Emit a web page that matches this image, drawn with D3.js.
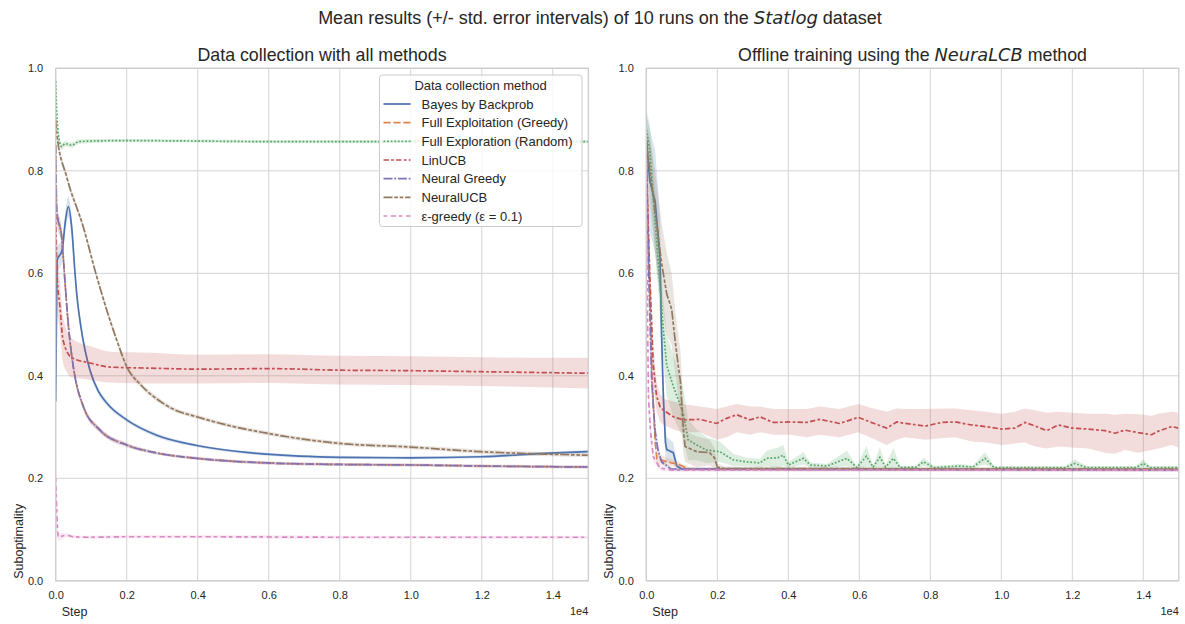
<!DOCTYPE html>
<html>
<head>
<meta charset="utf-8">
<script src="https://cdn.jsdelivr.net/npm/d3@7"></script>
<style>
body{margin:0;background:#fff}
svg{display:block;font-family:"Liberation Sans",Arial,sans-serif}
</style>
</head>
<body>
<div id="chart"></div>
<script>
'use strict'
// hue order used by both panels
const methods=["Bayes by Backprob","Full Exploitation (Greedy)","Full Exploration (Random)","LinUCB","Neural Greedy","NeuralUCB","ε-greedy (ε = 0.1)"]
const xTicks=[0,2000,4000,6000,8000,10000,12000,14000]
const yTicks=[0,0.2,0.4,0.6,0.8,1.0]

// left panel: data collection, rows are [step, mean, std. error]
const collectBayes=[[0,0.35,0.35],[37,0.625,0.03],[180,0.645,0.02],[270,0.70,0.02],[355,0.73,0.02],[450,0.69,0.02],[544,0.60,0.015],[592,0.56,0.012],[700,0.50,0.01],[826,0.45,0.008],[966,0.411,0.007],[1200,0.37,0.006],[1437,0.347,0.005],[2000,0.314,0.004],[2845,0.284,0.004],[3972,0.264,0.003],[5944,0.247,0.003],[8007,0.241,0.003],[9979,0.240,0.003],[11951,0.242,0.003],[13923,0.249,0.003],[15000,0.252,0.003]]
const collectGreedy=[[0,0.85,0.05],[30,0.72,0.02],[170,0.67,0.015],[260,0.585,0.012],[355,0.50,0.01],[450,0.44,0.01],[544,0.398,0.008],[779,0.34,0.006],[1248,0.294,0.005],[2000,0.265,0.004],[2800,0.25,0.003],[3972,0.239,0.003],[5944,0.23,0.003],[8007,0.227,0.003],[10000,0.226,0.003],[12000,0.224,0.003],[15000,0.222,0.003]]
const collectRandom=[[0,0.975,0.02],[40,0.90,0.01],[100,0.86,0.008],[170,0.847,0.006],[260,0.853,0.005],[450,0.85,0.005],[650,0.857,0.004],[1000,0.858,0.004],[2000,0.859,0.003],[4000,0.858,0.003],[6000,0.857,0.003],[9000,0.857,0.003],[12000,0.858,0.003],[15000,0.857,0.003]]
const collectLinUCB=[[0,0.74,0.06],[35,0.60,0.06],[121,0.534,0.05],[206,0.47,0.045],[459,0.435,0.038],[966,0.425,0.033],[1530,0.417,0.03],[2656,0.415,0.03],[4000,0.413,0.028],[6000,0.414,0.028],[8000,0.411,0.028],[10000,0.41,0.028],[12000,0.408,0.028],[14000,0.406,0.029],[15000,0.405,0.03]]
const collectNeuralGreedy=[[0,0.85,0.05],[30,0.72,0.02],[170,0.67,0.015],[260,0.585,0.012],[355,0.50,0.01],[450,0.44,0.01],[544,0.398,0.008],[779,0.34,0.006],[1248,0.294,0.005],[2000,0.265,0.004],[2800,0.25,0.003],[3972,0.239,0.003],[5944,0.23,0.003],[8007,0.227,0.003],[10000,0.226,0.003],[12000,0.224,0.003],[15000,0.222,0.003]]
const collectNeuralUCB=[[0,0.90,0.01],[28,0.873,0.008],[310,0.788,0.007],[779,0.69,0.006],[1150,0.595,0.006],[1718,0.47,0.006],[2000,0.418,0.005],[2400,0.382,0.005],[2845,0.355,0.005],[3310,0.335,0.004],[3972,0.32,0.004],[4817,0.304,0.004],[5944,0.288,0.004],[8007,0.268,0.004],[9979,0.261,0.004],[11951,0.252,0.004],[13923,0.247,0.004],[15000,0.245,0.004]]
const collectEps=[[0,0.2,0.1],[40,0.12,0.03],[70,0.086,0.008],[310,0.089,0.004],[500,0.086,0.003],[966,0.085,0.003],[2000,0.086,0.003],[4000,0.086,0.003],[8000,0.085,0.003],[15000,0.085,0.003]]

// right panel: offline training with NeuraLCB
const offlineBayes=[[0,0.86,0.05],[100,0.78,0.1],[250,0.74,0.1],[386,0.63,0.08],[430,0.48,0.06],[480,0.36,0.04],[540,0.27,0.03],[575,0.256,0.025],[760,0.25,0.02],[860,0.224,0.008],[1000,0.218,0.003],[15000,0.217,0.002]]
const offlineGreedy=[[0,0.85,0.04],[80,0.62,0.04],[160,0.40,0.03],[250,0.27,0.02],[300,0.238,0.01],[600,0.232,0.008],[950,0.226,0.005],[1200,0.218,0.003],[15000,0.217,0.002]]
const offlineRandom=[[0,0.88,0.04],[100,0.84,0.05],[250,0.70,0.06],[340,0.62,0.06],[480,0.49,0.06],[575,0.42,0.06],[760,0.38,0.06],[1040,0.327,0.05],[1180,0.275,0.04],[1420,0.265,0.03],[1700,0.255,0.025],[2070,0.252,0.02],[2450,0.236,0.012],[2830,0.232,0.008],[3200,0.23,0.008],[3390,0.239,0.015],[3700,0.24,0.02],[3860,0.245,0.02],[4000,0.226,0.006],[4430,0.239,0.012],[4620,0.226,0.005],[5090,0.224,0.004],[5650,0.239,0.015],[5930,0.221,0.003],[6200,0.243,0.02],[6390,0.222,0.003],[6580,0.241,0.02],[6740,0.222,0.003],[6960,0.239,0.02],[7150,0.221,0.003],[7600,0.222,0.003],[7810,0.232,0.008],[8100,0.221,0.003],[8837,0.224,0.004],[9200,0.222,0.003],[9541,0.239,0.012],[9800,0.221,0.003],[11800,0.221,0.003],[12077,0.229,0.008],[12400,0.221,0.003],[13800,0.221,0.003],[14000,0.229,0.008],[14200,0.221,0.003],[15000,0.221,0.003]]
// LinUCB band is lopsided, rows are [step, mean, lower, upper]
const offlineLinUCB=[[0,0.79,0.74,0.84],[50,0.70,0.64,0.76],[100,0.59,0.53,0.65],[197,0.42,0.38,0.46],[290,0.36,0.33,0.39],[386,0.34,0.31,0.365],[479,0.333,0.305,0.355],[761,0.32,0.295,0.35],[1042,0.314,0.29,0.345],[1513,0.315,0.29,0.34],[1983,0.307,0.275,0.335],[2265,0.317,0.28,0.34],[2547,0.324,0.29,0.345],[2921,0.314,0.285,0.34],[3203,0.32,0.29,0.34],[3578,0.309,0.285,0.335],[4051,0.31,0.285,0.335],[4518,0.309,0.28,0.335],[4882,0.315,0.285,0.34],[5445,0.307,0.28,0.335],[5972,0.319,0.29,0.345],[6300,0.31,0.28,0.338],[6772,0.298,0.265,0.33],[7054,0.31,0.275,0.336],[7301,0.307,0.28,0.335],[7864,0.302,0.275,0.335],[8318,0.309,0.278,0.336],[8696,0.31,0.28,0.336],[9166,0.304,0.272,0.333],[9541,0.301,0.27,0.33],[10012,0.296,0.265,0.326],[10386,0.298,0.268,0.33],[10668,0.309,0.27,0.336],[10950,0.302,0.262,0.333],[11280,0.293,0.258,0.328],[11606,0.304,0.262,0.33],[11983,0.298,0.26,0.328],[12451,0.296,0.258,0.326],[12922,0.293,0.25,0.326],[13200,0.288,0.248,0.324],[13484,0.294,0.255,0.326],[13860,0.289,0.25,0.325],[14237,0.285,0.255,0.322],[14423,0.292,0.258,0.326],[14800,0.301,0.265,0.33],[15000,0.298,0.26,0.328]]
const offlineNeuralGreedy=[[0,0.86,0.04],[60,0.62,0.04],[152,0.39,0.03],[245,0.294,0.02],[330,0.255,0.01],[434,0.232,0.005],[700,0.218,0.003],[15000,0.216,0.003]]
const offlineNeuralUCB=[[0,0.86,0.03],[100,0.80,0.06],[250,0.72,0.08],[430,0.62,0.08],[575,0.56,0.08],[715,0.53,0.07],[810,0.47,0.06],[900,0.42,0.06],[960,0.39,0.06],[1040,0.30,0.05],[1090,0.262,0.03],[1420,0.252,0.03],[1780,0.25,0.025],[1920,0.24,0.02],[2000,0.222,0.008],[2200,0.219,0.004],[15000,0.218,0.003]]
const offlineEps=[[0,0.84,0.04],[30,0.55,0.04],[60,0.36,0.03],[120,0.29,0.02],[197,0.242,0.01],[386,0.22,0.005],[700,0.216,0.003],[15000,0.216,0.003]]

const collectSeries=[collectBayes,collectGreedy,collectRandom,collectLinUCB,collectNeuralGreedy,collectNeuralUCB,collectEps]
const offlineSeries=[offlineBayes,offlineGreedy,offlineRandom,offlineLinUCB,offlineNeuralGreedy,offlineNeuralUCB,offlineEps]

let width=1185
let height=624
let top0=68.3
let bottom0=580.8
let colors=["#4c72b0","#dd8452","#55a868","#c44e52","#8172b3","#937860","#da8bc3"]
let dashes=["","7.2,2.7","1.8,1.8","5.4,2.25,2.7,2.25","9,1.8,1.8,1.8","9,1.8,3.6,1.8,3.6,1.8","3.6,3.6,5.4,2.7"]
let textColor="#262626"
let gridColor="#d4d4d4"

let svg=d3.select("#chart").append("svg").attr("width",width).attr("height",height)

svg.append("text").attr("x",600).attr("y",24).attr("text-anchor","middle")
  .style("font-size","18px").style("fill",textColor)
  .call(t=>{t.append("tspan").text("Mean results (+/- std. error intervals) of 10 runs on the ")
    t.append("tspan").style("font-family","DejaVu Sans").style("font-style","italic").text("Statlog")
    t.append("tspan").text(" dataset")})

function lo(r){return r.length==4?r[2]:r[1]-r[2]}
function hi(r){return r.length==4?r[3]:r[1]+r[2]}

function panel(id,x0,x1,series,smooth,titleFn){
  let x=d3.scaleLinear().domain([0,15000]).range([x0,x1])
  let y=d3.scaleLinear().domain([0,1]).range([bottom0,top0])
  let g=svg.append("g")
  g.append("clipPath").attr("id","clip"+id).append("rect")
    .attr("x",x0).attr("y",top0).attr("width",x1-x0).attr("height",bottom0-top0)
  // grid
  g.selectAll(".gx").data(xTicks).enter().append("line")
    .attr("x1",d=>x(d)).attr("x2",d=>x(d)).attr("y1",top0).attr("y2",bottom0)
    .style("stroke",gridColor).style("stroke-width",1)
  g.selectAll(".gy").data(yTicks).enter().append("line")
    .attr("x1",x0).attr("x2",x1).attr("y1",d=>y(d)).attr("y2",d=>y(d))
    .style("stroke",gridColor).style("stroke-width",1)
  // axes text
  let xa=g.append("g").attr("transform","translate(0,"+bottom0+")")
    .call(d3.axisBottom(x).tickValues(xTicks).tickSize(0).tickPadding(10).tickFormat(d=>(d/10000).toFixed(1)))
  let ya=g.append("g").attr("transform","translate("+x0+",0)")
    .call(d3.axisLeft(y).tickValues(yTicks).tickSize(0).tickPadding(12.5).tickFormat(d3.format(".1f")))
  for(let a of [xa,ya]){a.select(".domain").remove()
    a.selectAll("text").style("font-size","11px").style("fill",textColor).style("font-family","Liberation Sans, Arial, sans-serif")}
  let curve=smooth?d3.curveMonotoneX:d3.curveLinear
  let plot=g.append("g").attr("clip-path","url(#clip"+id+")")
  series.forEach((rows,i)=>{
    let area=d3.area().curve(curve).x(r=>x(r[0])).y0(r=>y(lo(r))).y1(r=>y(hi(r)))
    let line=d3.line().curve(curve).x(r=>x(r[0])).y(r=>y(r[1]))
    plot.append("path").attr("d",area(rows)).style("fill",colors[i]).style("fill-opacity",0.2).style("stroke","none")
    plot.append("path").attr("d",line(rows)).style("fill","none").style("stroke",colors[i])
      .style("stroke-width",1.7).style("stroke-dasharray",dashes[i])
  })
  // spines
  g.append("rect").attr("x",x0).attr("y",top0).attr("width",x1-x0).attr("height",bottom0-top0)
    .style("fill","none").style("stroke","#cccccc").style("stroke-width",1.25)
  let t=g.append("text").attr("x",(x0+x1)/2).attr("y",61).attr("text-anchor","middle")
    .style("font-size","17.8px").style("fill",textColor)
  titleFn(t)
  g.append("text").attr("x",x0+6).attr("y",616).text("Step").style("font-size","12.5px").style("fill",textColor)
  g.append("text").attr("x",x1).attr("y",615).attr("text-anchor","end").text("1e4").style("font-size","11px").style("fill",textColor)
  g.append("text").attr("transform","translate("+(x0-33)+","+(bottom0-2)+")rotate(-90)")
    .text("Suboptimality").style("font-size","12.5px").style("fill",textColor)
  return g
}

let left=panel("L",55.7,588.3,collectSeries,true,t=>t.text("Data collection with all methods"))
panel("R",646.3,1178.8,offlineSeries,false,t=>{
  t.append("tspan").text("Offline training using the ")
  t.append("tspan").style("font-family","DejaVu Sans").style("font-style","italic").text("NeuraLCB")
  t.append("tspan").text(" method")})

// legend
let lg=left.append("g").attr("transform","translate(379.5,75)")
lg.append("rect").attr("width",202.5).attr("height",151.5).attr("rx",3)
  .style("fill","#fff").style("fill-opacity",0.8).style("stroke","#cccccc").style("stroke-width",1)
lg.append("text").attr("x",101).attr("y",14.5).attr("text-anchor","middle")
  .text("Data collection method").style("font-size","13px").style("fill",textColor)
let items=lg.selectAll(".legend").data(methods).enter().append("g")
  .attr("transform",(d,i)=>"translate(0,"+(29+i*18.67)+")")
items.append("line").attr("x1",4).attr("x2",31).attr("y1",0).attr("y2",0)
  .style("stroke",(d,i)=>colors[i]).style("stroke-width",1.7).style("stroke-dasharray",(d,i)=>dashes[i])
items.append("text").attr("x",42).attr("y",4.6).text(d=>d).style("font-size","13px").style("fill",textColor)
</script>
</body>
</html>
